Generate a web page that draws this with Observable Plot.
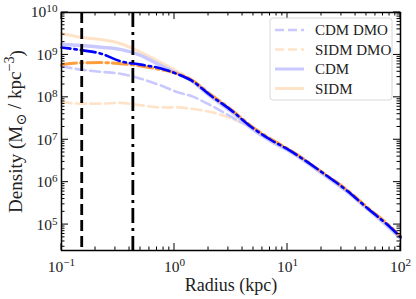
<!DOCTYPE html>
<html><head><meta charset="utf-8">
<script src="https://cdn.jsdelivr.net/npm/d3@7"></script>
<script src="https://cdn.jsdelivr.net/npm/@observablehq/plot@0.6"></script>
<style>
body{margin:0;background:#fff;}
#chart{position:relative;width:416px;height:299px;}
#chart svg text{font-family:'Liberation Serif','DejaVu Serif',serif;}
</style>
</head><body><div id="chart"></div>
<script>
// Sample radii (kpc)
const radius = [0.1, 0.148, 0.224, 0.331, 0.501, 0.759, 1.07, 1.41, 2.09, 3.16, 4.79, 7.08, 10, 13.5, 20.9, 33.1, 51.3, 79.4, 100];
// Densities (Msun / kpc^3)
const cdmHydroDashDot  = [1.5e9, 1.3e9, 1.07e9, 7.1e8, 5.9e8, 4.8e8, 3.5e8, 2.5e8, 1.1e8, 5.0e7, 2.0e7, 1.0e7, 6.0e6, 3.6e6, 1.6e6, 6.5e5, 2.4e5, 9.1e4, 5.1e4];
const sidmHydroDashDot = [5.9e8, 6.5e8, 6.6e8, 6.2e8, 5.5e8, 4.5e8, 3.6e8, 2.6e8, 1.17e8, 5.2e7, 2.1e7, 1.05e7, 6.2e6, 3.7e6, 1.62e6, 6.8e5, 2.5e5, 9.5e4, 5.2e4];
const cdmSolid  = [1.78e9, 1.66e9, 1.51e9, 1.35e9, 9.8e8, 5.6e8, 3.6e8, 2.45e8, 1.05e8, 4.7e7, 1.86e7, 9.3e6, 5.75e6, 3.45e6, 1.5e6, 6.2e5, 2.3e5, 8.5e4, 4.8e4];
const sidmSolid = [3.2e9, 2.6e9, 2.3e9, 1.86e9, 1.17e9, 6.6e8, 4.0e8, 2.6e8, 1.12e8, 4.9e7, 1.95e7, 9.8e6, 5.9e6, 3.55e6, 1.55e6, 6.3e5, 2.35e5, 8.7e4, 4.9e4];
const cdmDMO  = [5.4e8, 4.5e8, 4.0e8, 3.6e8, 2.75e8, 1.9e8, 1.32e8, 1.07e8, 6.5e7, 3.5e7, 1.9e7, 1.0e7, 5.9e6, 3.55e6, 1.55e6, 6.3e5, 2.35e5, 8.7e4, 4.9e4];
const sidmDMO = [7.8e7, 7.1e7, 7.1e7, 7.4e7, 6.5e7, 5.8e7, 5.8e7, 5.4e7, 4.5e7, 3.2e7, 1.9e7, 1.0e7, 5.9e6, 3.55e6, 1.55e6, 6.3e5, 2.35e5, 8.7e4, 4.9e4];
// Vertical reference radii (kpc)
const dashedRadius = [0.151];
const dashDotRadius = [0.428];
// Legend
const legendLabels = ["CDM DMO", "SIDM DMO", "CDM", "SIDM"];
// Ticks
const xTicks = [0.1, 1, 10, 100];
const xTickExp = ["−1", "0", "1", "2"];
const yTicks = [1e5, 1e6, 1e7, 1e8, 1e9, 1e10];
const yTickExp = ["5", "6", "7", "8", "9", "10"];

const LAV = "#c9c9ff", PEACH = "#ffe3c8", ORANGE = "#ff9d3f", BLUE = "#0000ff";
const toRows = arr => radius.map((r, i) => ({r, rho: arr[i]}));
const FONT = "'Liberation Serif', 'DejaVu Serif', serif";
const expOf = (ticks, exps) => d => { const i = ticks.findIndex(t => Math.abs(Math.log10(t) - Math.log10(d)) < 1e-6); return i < 0 ? "" : "10^" + exps[i]; };

const plot = Plot.plot({
  width: 416, height: 299,
  marginLeft: 61, marginRight: 16, marginTop: 12, marginBottom: 49,
  style: {fontFamily: FONT, background: "white", color: "#222"},
  x: {type: "log", domain: [0.1, 100]},
  y: {type: "log", domain: [2.45e4, 1e10]},
  marks: [
    Plot.line(toRows(sidmDMO), {x: "r", y: "rho", stroke: PEACH, strokeWidth: 2.6, strokeDasharray: "10,4.5", curve: "monotone-x"}),
    Plot.line(toRows(cdmDMO), {x: "r", y: "rho", stroke: LAV, strokeWidth: 2.6, strokeDasharray: "10,4.5", curve: "monotone-x"}),
    Plot.line(toRows(sidmSolid), {x: "r", y: "rho", stroke: PEACH, strokeWidth: 3, curve: "monotone-x"}),
    Plot.line(toRows(cdmSolid), {x: "r", y: "rho", stroke: LAV, strokeWidth: 3.5, curve: "monotone-x"}),
    Plot.line(toRows(sidmHydroDashDot), {x: "r", y: "rho", stroke: ORANGE, strokeWidth: 3, strokeDasharray: "15,4,2.5,4", curve: "monotone-x"}),
    Plot.line(toRows(cdmHydroDashDot), {x: "r", y: "rho", stroke: BLUE, strokeWidth: 2.6, strokeDasharray: "15,4,2.5,4", strokeDashoffset: 6, curve: "monotone-x"}),
    Plot.ruleX(dashedRadius, {stroke: "black", strokeWidth: 2.8, strokeDasharray: "11,5"}),
    Plot.ruleX(dashDotRadius, {stroke: "black", strokeWidth: 2.8, strokeDasharray: "15,5,3,5"}),
    Plot.axisX({ticks: xTicks, tickFormat: expOf(xTicks, xTickExp), tickSize: 0, tickPadding: 10, fontSize: 15.5, label: "Radius (kpc)", labelAnchor: "center", labelOffset: 40}),
    Plot.axisY({ticks: yTicks, tickFormat: expOf(yTicks, yTickExp), tickSize: 0, tickPadding: 4, fontSize: 15.5, label: "Density", labelAnchor: "center", labelOffset: 53}),
    Plot.frame({stroke: "black", strokeWidth: 1.5})
  ]
});
document.getElementById("chart").appendChild(plot);

const svg = d3.select(plot);
const sxs = plot.scale("x"), sys = plot.scale("y");
const fx = sxs.apply ? v => sxs.apply(v) : d3.scaleLog(sxs.domain, sxs.range);
const fy = sys.apply ? v => sys.apply(v) : d3.scaleLog(sys.domain, sys.range);
const [x0, x1] = [fx(0.1), fx(100)];
const [yb, yt] = [fy(2.45e4), fy(1e10)];

// superscript tick labels
svg.selectAll('g[aria-label="x-axis tick label"] text, g[aria-label="y-axis tick label"] text').each(function() {
  const t = d3.select(this);
  const s = t.text();
  if (!s.startsWith("10^")) return;
  const e = s.slice(3);
  t.text("");
  t.append("tspan").text("10");
  t.append("tspan").attr("dy", "-0.45em").attr("font-size", "0.72em").text(e);
});
// axis labels
svg.selectAll('g[aria-label="x-axis label"] text').attr("font-size", 18).text("Radius (kpc)");
svg.selectAll('g[aria-label="y-axis label"] text').each(function() {
  const t = d3.select(this);
  t.attr("font-size", 19);
  t.text("");
  t.append("tspan").text("Density (M");
  t.append("tspan").attr("dy", "0.3em").attr("font-size", "0.75em").text("⊙");
  t.append("tspan").attr("dy", "-0.3em").text(" / kpc");
  t.append("tspan").attr("dy", "-0.45em").attr("font-size", "0.75em").text("−3");
  t.append("tspan").attr("dy", "0.45em").text(")");
});

// inward ticks on all four sides
const tg = svg.append("g").attr("stroke", "black").attr("stroke-width", 1);
const xMinor = [], yMinor = [];
for (let e = -1; e < 2; e++) for (let k = 2; k <= 9; k++) xMinor.push(k * 10 ** e);
for (let e = 4; e < 10; e++) for (let k = 1; k <= 9; k++) { const v = k * 10 ** e; if (v >= 2.45e4 && !yTicks.includes(v)) yMinor.push(v); }
for (const v of xTicks) { const X = fx(v); tg.append("line").attr("x1", X).attr("x2", X).attr("y1", yb).attr("y2", yb - 7); tg.append("line").attr("x1", X).attr("x2", X).attr("y1", yt).attr("y2", yt + 7); }
for (const v of xMinor) { const X = fx(v); tg.append("line").attr("x1", X).attr("x2", X).attr("y1", yb).attr("y2", yb - 3.5); tg.append("line").attr("x1", X).attr("x2", X).attr("y1", yt).attr("y2", yt + 3.5); }
for (const v of yTicks) { const Y = fy(v); tg.append("line").attr("y1", Y).attr("y2", Y).attr("x1", x0).attr("x2", x0 + 7); tg.append("line").attr("y1", Y).attr("y2", Y).attr("x1", x1).attr("x2", x1 - 7); }
for (const v of yMinor) { const Y = fy(v); tg.append("line").attr("y1", Y).attr("y2", Y).attr("x1", x0).attr("x2", x0 + 3.5); tg.append("line").attr("y1", Y).attr("y2", Y).attr("x1", x1).attr("x2", x1 - 3.5); }

// legend
const lg = svg.append("g").attr("text-anchor", "start");
const lx = x1 - 130, ly = yt + 6;
lg.append("rect").attr("x", lx).attr("y", ly).attr("width", 122).attr("height", 82).attr("rx", 3)
  .attr("fill", "white").attr("fill-opacity", 0.85).attr("stroke", "#d8d8d8").attr("stroke-width", 1);
const legendStyles = [
  {stroke: LAV, dash: "9,4", w: 2.6},
  {stroke: PEACH, dash: "9,4", w: 2.6},
  {stroke: LAV, dash: null, w: 3},
  {stroke: PEACH, dash: null, w: 3}
];
legendLabels.forEach((lab, i) => {
  const yy = ly + 12 + i * 19.5;
  const st = legendStyles[i];
  lg.append("line").attr("x1", lx + 5).attr("x2", lx + 34).attr("y1", yy).attr("y2", yy)
    .attr("stroke", st.stroke).attr("stroke-width", st.w).attr("stroke-dasharray", st.dash);
  lg.append("text").attr("x", lx + 45).attr("y", yy).attr("dy", "0.35em").attr("text-anchor", "start")
    .style("font-size", "15px").attr("fill", "#222").text(lab);
});
</script>
</body></html>
